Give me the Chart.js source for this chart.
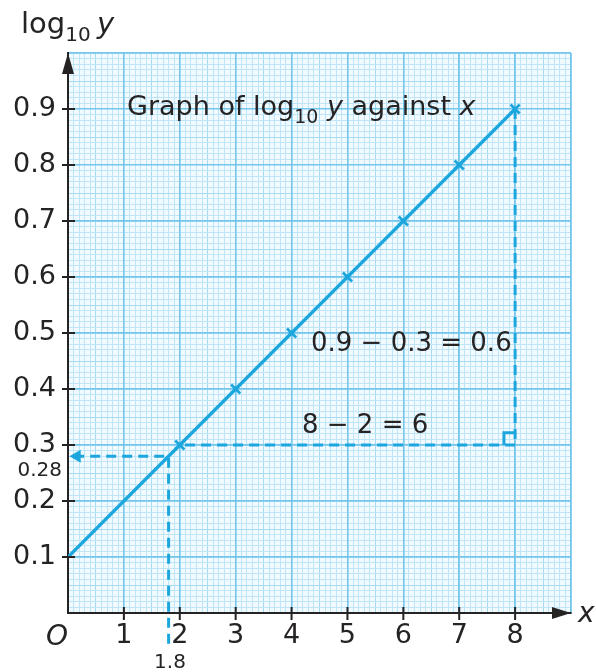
<!DOCTYPE html>
<html>
<head>
<meta charset="utf-8">
<script src="https://cdn.jsdelivr.net/npm/chart.js@4.4.1/dist/chart.umd.min.js"></script>
<style>
html, body { margin: 0; padding: 0; background: #fff; }
#wrap { width: 596px; height: 672px; }
</style>
</head>
<body>
<div id="wrap"><canvas id="graph" width="596" height="672"></canvas></div>
<script>
// values
const xValues = [0, 1, 2, 3, 4, 5, 6, 7, 8];
const logYValues = [0.1, 0.2, 0.3, 0.4, 0.5, 0.6, 0.7, 0.8, 0.9];
const markedFrom = 2; // crosses only drawn from x = 2 on

// gradient triangle: (8, 0.9) down to (8, 0.3), then across to (2, 0.3)
const riseX = [8, 8, 2];
const riseY = [0.9, 0.3, 0.3];
// right angle mark in the corner
const cornerX = [7.8, 7.8, 8];
const cornerY = [0.3, 0.322, 0.322];
// reading off x = 1.8 -> log10 y = 0.28
const readX = [1.8, 1.8, 0.2];
const readY = [-0.055, 0.28, 0.28];
const arrowX = [0.16];
const arrowY = [0.28];

const xTicks = [1, 2, 3, 4, 5, 6, 7, 8];
const yTicks = [0.1, 0.2, 0.3, 0.4, 0.5, 0.6, 0.7, 0.8, 0.9];

const FONT = "'DejaVu Sans', sans-serif";
const INK = "#262324";
const CYAN = "#1ba6dd";
const PAPER = "#f1fafe";
const MINOR = "#bfe5f6";
const MID = "#a6dbf2";
const MAJOR = "#74c6ea";

const pts = (xs, ys) => xs.map((x, i) => ({x: x, y: ys[i]}));

const paper = {
    id: "paper",
    beforeDraw(chart) {
        const a = chart.chartArea, c = chart.ctx;
        c.save();
        c.fillStyle = PAPER;
        c.fillRect(a.left, a.top, a.right - a.left, a.bottom - a.top);
        c.restore();
    }
};

// draw text made of pieces (normal, subscript, italic)
function runs(c, x, y, parts) {
    parts.forEach(p => {
        c.font = p.font;
        c.fillText(p.t, x, y + (p.dy || 0));
        x += c.measureText(p.t).width;
    });
}

const decor = {
    id: "decor",
    afterDraw(chart) {
        const c = chart.ctx, a = chart.chartArea;
        const sx = chart.scales.x, sy = chart.scales.y;
        const x0 = sx.getPixelForValue(0), y0 = sy.getPixelForValue(0);
        c.save();
        c.fillStyle = INK;
        c.strokeStyle = INK;
        c.lineWidth = 2;
        // axis arrow heads
        c.beginPath();
        c.moveTo(x0, a.top);
        c.lineTo(x0 - 6, a.top + 21);
        c.lineTo(x0 + 6, a.top + 21);
        c.closePath();
        c.fill();
        c.beginPath();
        c.moveTo(a.right, y0);
        c.lineTo(a.right - 19, y0 - 6);
        c.lineTo(a.right - 19, y0 + 6);
        c.closePath();
        c.fill();
        // tick marks across the axes
        c.beginPath();
        yTicks.forEach(v => {
            const p = sy.getPixelForValue(v);
            c.moveTo(x0 - 6, p); c.lineTo(x0 + 7, p);
        });
        xTicks.forEach(v => {
            const p = sx.getPixelForValue(v);
            c.moveTo(p, y0 - 6); c.lineTo(p, y0 + 7);
        });
        c.stroke();

        const big = "27px " + FONT, sub = "19px " + FONT, ital = "italic 27px " + FONT;
        c.textBaseline = "alphabetic";
        c.textAlign = "left";
        // axis names
        runs(c, 21, 33, [{t: "log", font: "29px " + FONT}, {t: "10", font: "20px " + FONT, dy: 8},
            {t: " ", font: "20px " + FONT}, {t: "y", font: "italic 29px " + FONT}]);
        c.font = "italic 28px " + FONT;
        c.fillText("x", 578, 622);
        c.fillText("O", 46, 645);
        // title on the paper
        runs(c, 127, 115, [{t: "Graph of log", font: big}, {t: "10", font: sub, dy: 8}, {t: " ", font: big},
            {t: "y", font: ital}, {t: " against ", font: big}, {t: "x", font: ital}]);
        // working
        c.font = "26px " + FONT;
        c.fillText("0.9 \u2212 0.3 = 0.6", 311, 351);
        c.fillText("8 \u2212 2 = 6", 302, 433);
        // read-off values
        c.font = "20px " + FONT;
        c.textAlign = "right";
        c.fillText("0.28", 62, 476);
        c.textAlign = "center";
        c.fillText("1.8", 170, 668);
        c.restore();
    }
};

new Chart("graph", {
    type: "scatter",
    data: {
        datasets: [{
            data: pts(xValues, logYValues),
            showLine: true,
            borderColor: CYAN,
            borderWidth: 3.2,
            pointStyle: "crossRot",
            pointRadius: (ctx) => xValues[ctx.dataIndex] >= markedFrom ? 6.5 : 0,
            pointBorderColor: CYAN,
            pointBorderWidth: 2.8
        }, {
            data: pts(riseX, riseY),
            showLine: true,
            borderColor: CYAN,
            borderWidth: 3,
            borderDash: [10, 6],
            pointRadius: 0
        }, {
            data: pts(cornerX, cornerY),
            showLine: true,
            borderColor: CYAN,
            borderWidth: 3,
            pointRadius: 0
        }, {
            data: pts(readX, readY),
            showLine: true,
            clip: false,
            borderColor: CYAN,
            borderWidth: 3,
            borderDash: [10, 6],
            pointRadius: 0
        }, {
            data: pts(arrowX, arrowY),
            pointStyle: "triangle",
            rotation: 270,
            pointRadius: 7.5,
            pointBackgroundColor: CYAN,
            pointBorderWidth: 0
        }]
    },
    options: {
        responsive: false,
        animation: false,
        events: [],
        layout: {padding: {top: 53, right: 25, left: 0, bottom: 0}},
        plugins: {legend: {display: false}, tooltip: {enabled: false}},
        scales: {
            xMinor: {
                type: "linear", axis: "x", position: "bottom", min: 0, max: 9,
                ticks: {display: false, stepSize: 0.1, maxTicksLimit: 1000},
                grid: {
                    color: (ctx) => Math.round(ctx.tick.value * 10) % 5 === 0 ? MID : MINOR,
                    lineWidth: 1, drawTicks: false, z: -1
                },
                border: {display: false},
                afterFit: (s) => { s.height = 0; }
            },
            yMinor: {
                type: "linear", axis: "y", position: "left", min: 0, max: 1,
                ticks: {display: false, stepSize: 0.01, maxTicksLimit: 1000},
                grid: {
                    color: (ctx) => Math.round(ctx.tick.value * 100) % 5 === 0 ? MID : MINOR,
                    lineWidth: 1, drawTicks: false, z: -1
                },
                border: {display: false},
                afterFit: (s) => { s.width = 0; }
            },
            x: {
                type: "linear", position: "bottom", min: 0, max: 9,
                ticks: {
                    stepSize: 1, padding: 7, color: INK, font: {family: FONT, size: 27},
                    callback: (v) => xTicks.includes(v) ? String(v) : ""
                },
                grid: {color: MAJOR, lineWidth: 1.6, drawTicks: false},
                border: {color: INK, width: 2},
                afterFit: (s) => { s.height = 59; }
            },
            y: {
                type: "linear", position: "left", min: 0, max: 1,
                ticks: {
                    stepSize: 0.1, padding: 12, color: INK, font: {family: FONT, size: 27},
                    callback: (v) => (v > 0.05 && v < 0.95) ? v.toFixed(1) : ""
                },
                grid: {color: MAJOR, lineWidth: 1.6, drawTicks: false},
                border: {color: INK, width: 2},
                afterFit: (s) => { s.width = 68; }
            }
        }
    },
    plugins: [paper, decor]
});
</script>
</body>
</html>
